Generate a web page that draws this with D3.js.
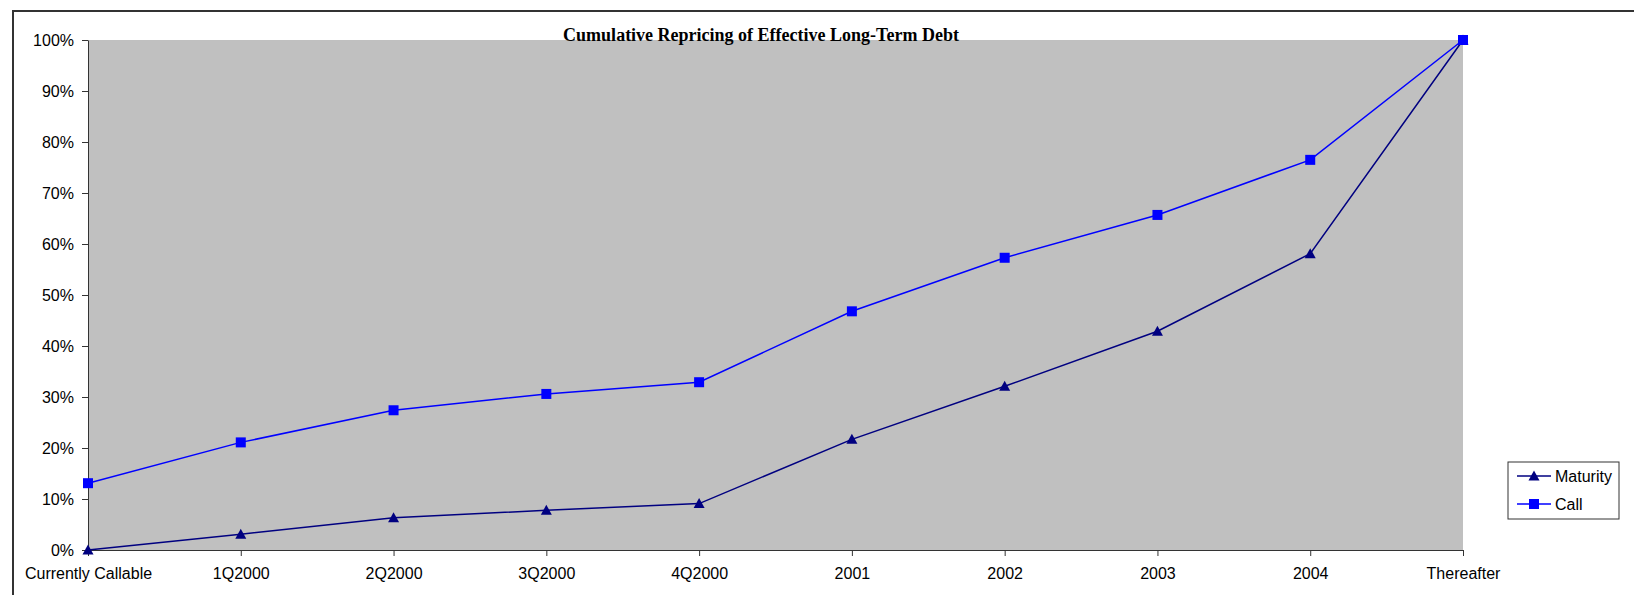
<!DOCTYPE html>
<html>
<head>
<meta charset="utf-8">
<script src="https://cdn.jsdelivr.net/npm/d3@7"></script>
<style>
    body { margin: 0; background: #fff; }
    svg { display: block; }
    .axis text { font-family: Arial, "Liberation Sans", sans-serif; font-size: 16px; fill: #000; }
    .axis path, .axis line { stroke: #333; }
</style>
</head>
<body>
<div class="chart-main"></div>
<script>
//////////
// DATA //
//////////

var categories = ['Currently Callable', '1Q2000', '2Q2000', '3Q2000', '4Q2000', '2001', '2002', '2003', '2004', 'Thereafter'];
var maturity = [0, 3.1, 6.3, 7.8, 9.1, 21.7, 32.1, 42.9, 58.1, 100];
var call = [13.1, 21.1, 27.4, 30.6, 32.9, 46.8, 57.3, 65.7, 76.5, 100];
var yTicks = [0, 10, 20, 30, 40, 50, 60, 70, 80, 90, 100];

var seriesList = [
    { name: 'Maturity', values: maturity, color: '#000080', marker: 'triangle' },
    { name: 'Call', values: call, color: '#0000FF', marker: 'square' }
];

//////////////////
// CREATING SVG //
//////////////////

var w = 1634,
    h = 595;

var svg = d3.select('.chart-main')
    .append('svg')
    .attr('width', w)
    .attr('height', h);

// chart border (only top and left visible)
svg.append('path')
    .attr('d', 'M13,' + h + 'V11H' + w)
    .attr('fill', 'none')
    .attr('stroke', '#333')
    .attr('stroke-width', 2);

var plot = { left: 88, top: 40, right: 1463, bottom: 550 };

////////////
// SCALES //
////////////

var xScale = d3.scalePoint()
    .domain(categories)
    .range([plot.left, plot.right])
    .padding(0);

var yScale = d3.scaleLinear()
    .domain([0, 100])
    .range([plot.bottom, plot.top]);

svg.append('rect')
    .attr('x', plot.left)
    .attr('y', plot.top)
    .attr('width', plot.right - plot.left)
    .attr('height', plot.bottom - plot.top)
    .attr('fill', '#C0C0C0');

//////////
// AXIS //
//////////

var yAxis = d3.axisLeft(yScale)
    .tickValues(yTicks)
    .tickSize(6)
    .tickSizeOuter(0)
    .tickPadding(8)
    .tickFormat(function(d) { return d + '%'; });

svg.append('g')
    .attr('class', 'axis')
    .attr('transform', 'translate(' + plot.left + ',0)')
    .call(yAxis);

var xAxis = d3.axisBottom(xScale)
    .tickSize(6)
    .tickSizeOuter(0)
    .tickPadding(12);

svg.append('g')
    .attr('class', 'axis')
    .attr('transform', 'translate(0,' + plot.bottom + ')')
    .call(xAxis);

///////////
// LINES //
///////////

var line = d3.line()
    .x(function(d, i) { return xScale(categories[i]); })
    .y(function(d) { return yScale(d); });

function drawMarker(g, type, color) {
    if (type === 'square') {
        g.append('rect')
            .attr('x', -5).attr('y', -5)
            .attr('width', 10).attr('height', 10)
            .attr('fill', color);
    } else {
        g.append('path')
            .attr('d', 'M0,-5.5L5.5,4.5L-5.5,4.5Z')
            .attr('fill', color);
    }
}

seriesList.forEach(function(s) {
    svg.append('path')
        .datum(s.values)
        .attr('d', line)
        .attr('fill', 'none')
        .attr('stroke', s.color)
        .attr('stroke-width', 1.5);

    svg.selectAll('.pt-' + s.name)
        .data(s.values)
        .enter()
        .append('g')
        .attr('transform', function(d, i) { return 'translate(' + xScale(categories[i]) + ',' + yScale(d) + ')'; })
        .each(function() { drawMarker(d3.select(this), s.marker, s.color); });
});

///////////
// TITLE //
///////////

svg.append('text')
    .attr('x', 761)
    .attr('y', 41)
    .attr('text-anchor', 'middle')
    .attr('font-family', '"Liberation Serif", "Times New Roman", serif')
    .attr('font-weight', 'bold')
    .attr('font-size', 18)
    .text('Cumulative Repricing of Effective Long-Term Debt');

////////////
// LEGEND //
////////////

var legend = svg.append('g')
    .attr('transform', 'translate(1508,462)');

legend.append('rect')
    .attr('width', 111)
    .attr('height', 57)
    .attr('fill', '#fff')
    .attr('stroke', '#333')
    .attr('stroke-width', 1);

seriesList.forEach(function(s, i) {
    var ly = 14 + i * 28;
    legend.append('line')
        .attr('x1', 9).attr('x2', 43)
        .attr('y1', ly).attr('y2', ly)
        .attr('stroke', s.color)
        .attr('stroke-width', 1.5);
    drawMarker(legend.append('g').attr('transform', 'translate(26,' + ly + ')'), s.marker, s.color);
    legend.append('text')
        .attr('x', 47)
        .attr('y', ly + 6)
        .attr('font-family', 'Arial, "Liberation Sans", sans-serif')
        .attr('font-size', 16)
        .text(s.name);
});
</script>
</body>
</html>
